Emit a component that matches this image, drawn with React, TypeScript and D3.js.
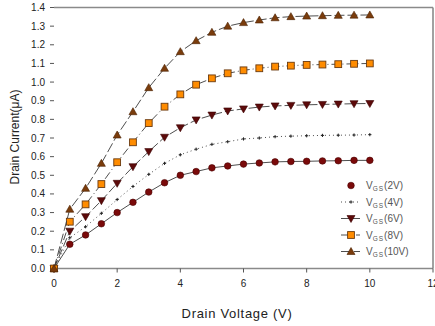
import React from "react";
import * as d3 from "d3";

const vd = [0, 0.5, 1, 1.5, 2, 2.5, 3, 3.5, 4, 4.5, 5, 5.5, 6, 6.5, 7, 7.5, 8, 8.5, 9, 9.5, 10];
const vgs2 = [0, 0.13, 0.18, 0.24, 0.3, 0.355, 0.41, 0.46, 0.5, 0.52, 0.54, 0.55, 0.56, 0.566, 0.572, 0.574, 0.575, 0.577, 0.578, 0.58, 0.58];
const vgs4 = [0, 0.165, 0.224, 0.296, 0.37, 0.44, 0.505, 0.564, 0.61, 0.64, 0.666, 0.68, 0.695, 0.7, 0.707, 0.71, 0.712, 0.714, 0.715, 0.716, 0.718];
const vgs6 = [0, 0.2, 0.278, 0.364, 0.457, 0.546, 0.627, 0.704, 0.755, 0.797, 0.823, 0.845, 0.856, 0.866, 0.872, 0.875, 0.878, 0.88, 0.882, 0.884, 0.885];
const vgs8 = [0, 0.251, 0.344, 0.453, 0.57, 0.677, 0.78, 0.868, 0.934, 0.986, 1.02, 1.047, 1.063, 1.074, 1.083, 1.088, 1.092, 1.094, 1.096, 1.098, 1.1];
const vgs10 = [0, 0.318, 0.43, 0.564, 0.716, 0.841, 0.97, 1.074, 1.163, 1.222, 1.267, 1.3, 1.319, 1.333, 1.345, 1.351, 1.354, 1.356, 1.358, 1.359, 1.36];
const legendLabels = ["(2V)", "(4V)", "(6V)", "(8V)", "(10V)"];
const xTicks = [0, 2, 4, 6, 8, 10, 12];
const yTicks = [0, 0.1, 0.2, 0.3, 0.4, 0.5, 0.6, 0.7, 0.8, 0.9, 1.0, 1.1, 1.2, 1.3, 1.4];

type Series = { values: number[]; marker: string; fill: string; stroke: string; dash: string; size: number };

const series: Series[] = [
  { values: vgs2, marker: "circle", fill: "#7a0a0a", stroke: "#4a0000", dash: "none", size: 3.3 },
  { values: vgs4, marker: "tiny", fill: "#222", stroke: "#222", dash: "1,3", size: 1.6 },
  { values: vgs6, marker: "tdown", fill: "#5c0a0a", stroke: "#3a0000", dash: "9,3", size: 4 },
  { values: vgs8, marker: "square", fill: "#ff8c00", stroke: "#6a3a10", dash: "8,3,1,3", size: 3.4 },
  { values: vgs10, marker: "tup", fill: "#7a3c0c", stroke: "#4a2000", dash: "10,3", size: 4 },
];

const L = 54, R = 433, T = 7.5, B = 268.5;
const x = d3.scaleLinear().domain([0, 12]).range([L, R]);
const y = d3.scaleLinear().domain([0, 1.4]).range([B, T]);

function Marker({ kind, cx, cy, fill, stroke, size }: { kind: string; cx: number; cy: number; fill: string; stroke: string; size: number }) {
  if (kind === "circle") return <circle cx={cx} cy={cy} r={size} fill={fill} stroke={stroke} strokeWidth={0.6} />;
  if (kind === "square")
    return <rect x={cx - size} y={cy - size} width={size * 2} height={size * 2} fill={fill} stroke={stroke} strokeWidth={0.9} />;
  if (kind === "tup") {
    const s = size;
    return <path d={`M${cx},${cy - s} L${cx + s},${cy + s * 0.75} L${cx - s},${cy + s * 0.75} Z`} fill={fill} stroke={stroke} strokeWidth={0.6} />;
  }
  if (kind === "tdown") {
    const s = size;
    return <path d={`M${cx - s},${cy - s * 0.75} L${cx + s},${cy - s * 0.75} L${cx},${cy + s} Z`} fill={fill} stroke={stroke} strokeWidth={0.6} />;
  }
  return <path d={`M${cx - size},${cy} L${cx + size},${cy} M${cx},${cy - size} L${cx},${cy + size}`} stroke={stroke} strokeWidth={1} />;
}

export default function App() {
  const line = d3
    .line<number>()
    .x((_, i) => x(vd[i]))
    .y((v) => y(v));
  const font = "Liberation Sans, Arial, sans-serif";
  const legendY0 = 185.5;
  const legendStep = 16.5;
  return (
    <svg width={435} height={326} style={{ position: "absolute", left: 0, top: 0, background: "#fff" }} fontFamily={font}>
      <rect x={0} y={0} width={435} height={326} fill="#fff" />
      {/* frame */}
      <line x1={L} y1={T} x2={R} y2={T} stroke="#8a8a8a" strokeWidth={1.6} />
      <line x1={R} y1={T} x2={R} y2={B} stroke="#8a8a8a" strokeWidth={1.6} />
      <line x1={L} y1={B} x2={R} y2={B} stroke="#8a8a8a" strokeWidth={1.4} />
      {/* y ticks */}
      {yTicks.map((t) => (
        <g key={"y" + t}>
          <line x1={L - 4} x2={L} y1={y(t)} y2={y(t)} stroke="#555" strokeWidth={1} />
          <text x={L - 9} y={y(t)} dy="0.35em" textAnchor="end" fontSize={10} fill="#222">
            {t.toFixed(1)}
          </text>
        </g>
      ))}
      {/* x ticks */}
      {xTicks.map((t) => (
        <g key={"x" + t}>
          <line x1={x(t)} x2={x(t)} y1={B} y2={B + 4} stroke="#555" strokeWidth={1} />
          <text x={x(t)} y={B + 18} textAnchor="middle" fontSize={10} fill="#222">
            {t}
          </text>
        </g>
      ))}
      {/* axis titles */}
      <text x={237} y={318} textAnchor="middle" fontSize={13} letterSpacing={0.7} fill="#222">
        Drain Voltage (V)
      </text>
      <text transform={`translate(19,137) rotate(-90)`} textAnchor="middle" fontSize={12} fill="#222">
        Drain Current(μA)
      </text>
      {/* series */}
      {series.map((s, k) => (
        <g key={"s" + k}>
          <path d={line(s.values) || ""} fill="none" stroke="#3a3a3a" strokeWidth={0.9} strokeDasharray={s.dash} />
          {s.values.map((v, i) => (
            <Marker key={i} kind={s.marker} cx={x(vd[i])} cy={y(v)} fill={s.fill} stroke={s.stroke} size={s.size} />
          ))}
        </g>
      ))}
      {/* legend */}
      {series.map((s, k) => {
        const ly = legendY0 + k * legendStep;
        return (
          <g key={"l" + k}>
            {k > 0 && <line x1={341} x2={360} y1={ly} y2={ly} stroke="#3a3a3a" strokeWidth={0.9} strokeDasharray={s.dash} />}
            <Marker kind={s.marker} cx={351} cy={ly} fill={s.fill} stroke={s.stroke} size={s.size} />
            <text x={366} y={ly} dy="0.35em" fontSize={10} fill="#555">
              V
              <tspan fontSize={6.5} dy="2" letterSpacing={1}>GS</tspan>
              <tspan dy="-2">{legendLabels[k]}</tspan>
            </text>
          </g>
        );
      })}
    </svg>
  );
}
